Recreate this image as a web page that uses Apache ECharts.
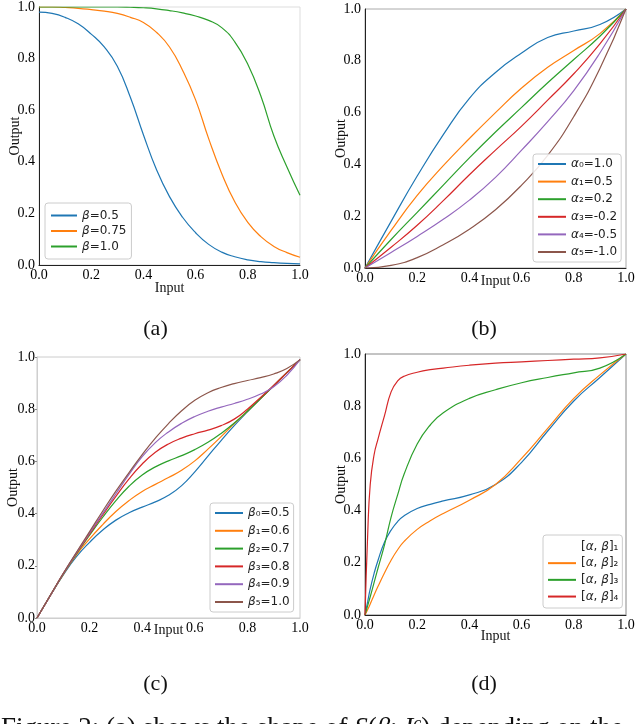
<!DOCTYPE html>
<html><head><meta charset="utf-8">
<script src="https://cdn.jsdelivr.net/npm/echarts@6/dist/echarts.min.js"></script>
<style>html,body{margin:0;padding:0;background:#fff}#c{width:640px;height:724px}</style>
</head><body><div id="c"></div>
<script>
const TICK_LABELS = ['0.0','0.2','0.4','0.6','0.8','1.0'];
const COLORS = ['#1f77b4','#ff7f0e','#2ca02c','#d62728','#9467bd','#8c564b'];

// (a)
const A_X = [0,0.05,0.1,0.15,0.2,0.25,0.3,0.35,0.4,0.45,0.5,0.55,0.6,0.65,0.7,0.75,0.8,0.85,0.9,0.95,1.0];
const A_NAMES = ['β=0.5','β=0.75','β=1.0'];
const A_BETA_050 = [0.98,0.975,0.96,0.935,0.895,0.845,0.77,0.65,0.505,0.37,0.265,0.185,0.125,0.08,0.05,0.032,0.02,0.013,0.009,0.006,0.004];
const A_BETA_075 = [1.0,1.0,0.998,0.995,0.99,0.984,0.975,0.96,0.94,0.902,0.845,0.755,0.64,0.49,0.355,0.245,0.165,0.11,0.072,0.048,0.03];
const A_BETA_100 = [1.0,1.0,1.0,1.0,1.0,1.0,1.0,0.999,0.997,0.993,0.986,0.977,0.965,0.948,0.92,0.865,0.778,0.655,0.5,0.38,0.27];

// (b)
const B_X = [0,0.1,0.2,0.3,0.4,0.5,0.6,0.7,0.8,0.9,1.0];
const B_NAMES = ['α₀=1.0','α₁=0.5','α₂=0.2','α₃=-0.2','α₄=-0.5','α₅=-1.0'];
const B_A0 = [0,0.18,0.355,0.515,0.655,0.755,0.83,0.89,0.915,0.94,1.0];
const B_A1 = [0,0.145,0.28,0.395,0.5,0.6,0.695,0.775,0.84,0.905,1.0];
const B_A2 = [0,0.11,0.215,0.32,0.425,0.525,0.62,0.715,0.805,0.895,1.0];
const B_A3 = [0,0.08,0.165,0.26,0.36,0.455,0.548,0.648,0.75,0.865,1.0];
const B_A4 = [0,0.06,0.122,0.188,0.262,0.35,0.455,0.565,0.685,0.83,1.0];
const B_A5 = [0,0.01,0.04,0.09,0.15,0.225,0.32,0.435,0.585,0.77,1.0];

// (c)
const C_X = [0,0.05,0.1,0.15,0.2,0.25,0.3,0.35,0.4,0.45,0.5,0.55,0.6,0.65,0.7,0.75,0.8,0.85,0.9,0.95,1.0];
const C_NAMES = ['β₀=0.5','β₁=0.6','β₂=0.7','β₃=0.8','β₄=0.9','β₅=1.0'];
const C_B0 = [0,0.085,0.165,0.235,0.29,0.337,0.375,0.403,0.425,0.445,0.47,0.507,0.56,0.62,0.68,0.737,0.79,0.84,0.89,0.94,0.99];
const C_B1 = [0,0.085,0.167,0.242,0.303,0.358,0.408,0.45,0.485,0.512,0.538,0.566,0.602,0.647,0.695,0.745,0.792,0.841,0.89,0.94,0.99];
const C_B2 = [0,0.085,0.168,0.246,0.317,0.386,0.45,0.505,0.548,0.579,0.602,0.622,0.645,0.673,0.707,0.747,0.792,0.841,0.89,0.94,0.99];
const C_B3 = [0,0.085,0.17,0.248,0.322,0.395,0.466,0.533,0.59,0.635,0.667,0.689,0.706,0.72,0.737,0.762,0.8,0.845,0.891,0.94,0.99];
const C_B4 = [0,0.085,0.17,0.25,0.326,0.401,0.476,0.55,0.618,0.672,0.713,0.746,0.772,0.792,0.808,0.822,0.838,0.858,0.886,0.93,0.99];
const C_B5 = [0,0.086,0.171,0.252,0.331,0.41,0.486,0.557,0.626,0.689,0.745,0.794,0.834,0.863,0.883,0.898,0.91,0.921,0.935,0.956,0.99];

// (d)
const D_X = [0,0.01,0.02,0.035,0.05,0.075,0.1,0.125,0.15,0.2,0.25,0.3,0.4,0.5,0.6,0.7,0.8,0.9,1.0];
const D_NAMES = ['[α, β]₁','[α, β]₂','[α, β]₃','[α, β]₄'];
const D_1 = [0,0.05,0.1,0.16,0.21,0.28,0.325,0.358,0.38,0.408,0.424,0.437,0.46,0.5,0.585,0.705,0.82,0.91,1.0];
const D_2 = [0,0.02,0.042,0.077,0.11,0.162,0.21,0.25,0.282,0.328,0.361,0.389,0.44,0.5,0.6,0.715,0.83,0.92,1.0];
const D_3 = [0,0.035,0.07,0.125,0.18,0.27,0.375,0.46,0.54,0.655,0.728,0.775,0.83,0.863,0.89,0.91,0.928,0.946,1.0];
const D_4 = [0,0.3,0.5,0.615,0.675,0.765,0.855,0.897,0.915,0.93,0.94,0.946,0.957,0.965,0.97,0.975,0.98,0.985,1.0];

const SERIF = '"Liberation Serif", "Times New Roman", serif';
const SANS = '"DejaVu Sans", sans-serif';

const GRIDS = [
  {left:39, top:6, width:261, height:259},
  {left:365, top:9, width:261, height:259},
  {left:37, top:357, width:263, height:261},
  {left:365, top:354, width:261, height:261}
];
const X_NAMEGAP = [16, 6, 5, 14];
const AXIS_COLOR = ['#222', '#222', '#cfcfcf', '#222'];
const BORDER_COLOR = ['#dddddd', '#aaaaaa', '#cccccc', '#888888'];

function fmt(v){ return TICK_LABELS[Math.round(v/0.2)]; }

const grid = GRIDS.map((g,i)=>Object.assign({show:true, borderColor:BORDER_COLOR[i], borderWidth:1, backgroundColor:'transparent'}, g));

const xAxis = GRIDS.map((g,i)=>({
  gridIndex:i, type:'value', min:0, max:1, interval:0.2,
  name:'Input', nameLocation:'middle', nameGap:X_NAMEGAP[i], nameMoveOverlap:false,
  nameTextStyle:{fontFamily:SERIF, fontSize:14, color:'#111'},
  axisLine:{show:true, onZero:false, lineStyle:{color:AXIS_COLOR[i], width:1}},
  axisTick:{show:false}, splitLine:{show:false},
  axisLabel:{formatter:fmt, fontFamily:SERIF, fontSize:14, color:'#000', margin:3}
}));
const yAxis = GRIDS.map((g,i)=>({
  gridIndex:i, type:'value', min:0, max:1, interval:0.2,
  name:'Output', nameLocation:'middle', nameGap:17, nameRotate:90, nameMoveOverlap:false,
  nameTextStyle:{fontFamily:SERIF, fontSize:14, color:'#111'},
  axisLine:{show:true, onZero:false, lineStyle:{color:AXIS_COLOR[i], width:1}},
  axisTick:{show:i===2, length:2, lineStyle:{color:'#888'}}, splitLine:{show:false},
  axisLabel:{formatter:fmt, fontFamily:SERIF, fontSize:14, color:'#000', margin:i===2?2:4}
}));

function mk(name, xs, ys, idx, color){
  return {name, type:'line', xAxisIndex:idx, yAxisIndex:idx, data:xs.map((x,k)=>[x, ys[k]]),
    symbol:'none', showSymbol:false, smooth:0.5, smoothConstraint:false,
    lineStyle:{width:1.2, color}, itemStyle:{color}, z:2};
}
const series = [];
[A_BETA_050, A_BETA_075, A_BETA_100].forEach((s,k)=>series.push(mk(A_NAMES[k], A_X, s, 0, COLORS[k])));
[B_A0,B_A1,B_A2,B_A3,B_A4,B_A5].forEach((s,k)=>series.push(mk(B_NAMES[k], B_X, s, 1, COLORS[k])));
[C_B0,C_B1,C_B2,C_B3,C_B4,C_B5].forEach((s,k)=>series.push(mk(C_NAMES[k], C_X, s, 2, COLORS[k])));
[D_1,D_2,D_3,D_4].forEach((s,k)=>series.push(mk(D_NAMES[k], D_X, s, 3, COLORS[k])));

function legend(names, left, top, lh, gap, pad, iw, hideFirst){
  return {
    orient:'vertical', left, top, itemWidth:iw, itemHeight:lh, itemGap:gap, padding:pad,
    backgroundColor:'rgba(255,255,255,0.85)', borderColor:'#cccccc', borderWidth:1, borderRadius:3,
    selectedMode:false,
    itemStyle:{opacity:0},
    data:names.map((n,k)=> (hideFirst && k===0) ? {name:n, lineStyle:{opacity:0}} : {name:n}),
    formatter:n=>n.replace(/([αβ])/g,'{g|$1}'),
    textStyle:{fontFamily:SANS, fontSize:12, color:'#222', lineHeight:lh,
      rich:{g:{fontFamily:SANS, fontStyle:'italic', fontSize:12, color:'#222', lineHeight:lh}}}
  };
}
const legends = [
  legend(A_NAMES, 45, 203, 14, 1.5, [5.5,5], 26, false),
  legend(B_NAMES, 533, 154, 14, 3.6, [3,4], 28, false),
  legend(C_NAMES, 210, 503, 14, 3.8, [3,4], 28, false),
  legend(D_NAMES, 543, 535, 14.9, 1.8, [4,4], 28, true)
];

const capFont = '22px ' + SERIF;
const graphic = [
  {type:'text', x:155.5, y:329, style:{text:'(a)', font:capFont, fill:'#111', align:'center', verticalAlign:'middle'}},
  {type:'text', x:484, y:329, style:{text:'(b)', font:capFont, fill:'#111', align:'center', verticalAlign:'middle'}},
  {type:'text', x:155.5, y:684, style:{text:'(c)', font:capFont, fill:'#111', align:'center', verticalAlign:'middle'}},
  {type:'text', x:484, y:684, style:{text:'(d)', font:capFont, fill:'#111', align:'center', verticalAlign:'middle'}},
  {type:'text', x:1, y:715, style:{
    text:'Figure 2: (a) shows the shape of {i|S}({i|β}; {i|I}{s|c}) depending on the',
    font:'27px ' + SERIF, fill:'#111', align:'left', verticalAlign:'top',
    rich:{i:{fontFamily:SERIF, fontSize:27, fontStyle:'italic', fill:'#111'},
          s:{fontFamily:SERIF, fontSize:18, fontStyle:'italic', fill:'#111', verticalAlign:'top'}}
  }}
];

const chart = echarts.init(document.getElementById('c'), null, {renderer:'canvas'});
chart.setOption({animation:false, backgroundColor:'#fff', grid, xAxis, yAxis, series, legend:legends, graphic});
</script></body></html>
